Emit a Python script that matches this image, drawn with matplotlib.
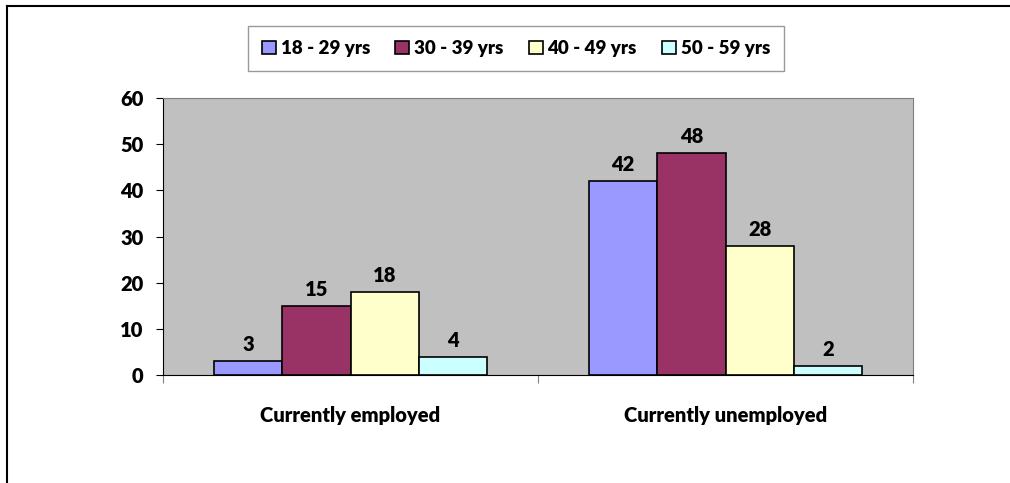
import matplotlib
matplotlib.use("Agg")
import matplotlib.pyplot as plt
from matplotlib.lines import Line2D
import numpy as np

plt.rcParams['font.family'] = ['Lato', 'DejaVu Sans']
plt.rcParams['font.weight'] = 'heavy'

categories = ["Currently employed", "Currently unemployed"]
groups = ["18 - 29 yrs", "30 - 39 yrs", "40 - 49 yrs", "50 - 59 yrs"]
values = [
    [3, 42],
    [15, 48],
    [18, 28],
    [4, 2],
]
colors = ["#9999FF", "#993366", "#FFFFCC", "#CCFFFF"]

fig = plt.figure(figsize=(10.10, 4.83), dpi=100)
ax = fig.add_axes([0.1614, 0.2236, 0.7426, 0.5735])
ax.set_facecolor("#C0C0C0")

x = np.arange(len(categories))
w = 0.182
for i, (g, vals, c) in enumerate(zip(groups, values, colors)):
    bars = ax.bar(x + (i - 1.5) * w, vals, w, color=c, edgecolor="black",
                  linewidth=1.2, label=g, zorder=3)
    ax.bar_label(bars, padding=5, fontsize=14.5, fontweight="heavy")

ax.set_xlim(-0.5, 1.5)
ax.set_ylim(0, 60)
ax.set_yticks(range(0, 61, 10))
ax.set_xticks([-0.5, 0.5, 1.5])
ax.set_xticklabels([])
ax.set_xticks(x, minor=True)
ax.set_xticklabels(categories, minor=True, fontsize=14.5, fontweight="heavy")
ax.tick_params(axis="x", which="major", length=6, color="#808080", direction="out")
ax.tick_params(axis="x", which="minor", length=0, pad=22)
ax.tick_params(axis="y", length=5, color="black", pad=9, labelsize=14.5)
for s in ["top", "right"]:
    ax.spines[s].set_color("#808080")
ax.spines["left"].set_color("black")
ax.spines["bottom"].set_color("black")

leg = fig.legend(loc="center", bbox_to_anchor=(516 / 1010, 1 - 48.5 / 483), ncol=4,
                 prop={"size": 13.5, "weight": "heavy"}, frameon=True, fancybox=False,
                 edgecolor="#808080", handlelength=0.75, handleheight=0.75,
                 handletextpad=0.25, columnspacing=1.35, borderpad=0.75)
leg.get_frame().set_linewidth(1.0)

# outer frame (left and top edges)
fig.add_artist(Line2D([7 / 1010, 7 / 1010], [0, 1 - 6 / 483], color="black", lw=1.5))
fig.add_artist(Line2D([7 / 1010, 1], [1 - 6 / 483, 1 - 6 / 483], color="black", lw=1.5))

fig.savefig("out.png", dpi=100)
